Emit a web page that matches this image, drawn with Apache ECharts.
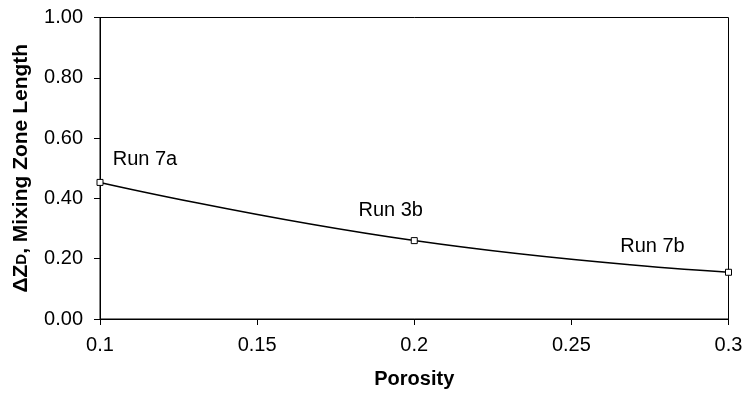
<!DOCTYPE html>
<html><head><meta charset="utf-8">
<script src="https://cdn.jsdelivr.net/npm/echarts@6/dist/echarts.min.js"></script>
<style>html,body{margin:0;padding:0;background:#fff}#c{width:747px;height:397px}</style>
</head><body><div id="c"></div>
<script>
const porosity = [0.1, 0.2, 0.3];
const mixingZone = [0.453, 0.26, 0.155];
const runLabels = ['Run 7a', 'Run 3b', 'Run 7b'];
const labelOffsets = [[45, -23], [-23.5, -30], [-76, -26]];

const chart = echarts.init(document.getElementById('c'));
const F = '"Liberation Sans", Arial, sans-serif';
chart.setOption({
  animation: false,
  backgroundColor: '#fff',
  textStyle: {fontFamily: F},
  grid: {left: 100, right: 18.5, top: 17.5, bottom: 78, show: true, borderColor: '#000', borderWidth: 1},
  xAxis: {
    type: 'value', min: 0.1, max: 0.3, interval: 0.05,
    name: 'Porosity', nameLocation: 'middle', nameGap: 50,
    nameTextStyle: {fontFamily: F, fontSize: 20, fontWeight: 'bold', color: '#000'},
    axisLine: {show: true, lineStyle: {color: '#000', width: 1}},
    axisTick: {show: true, length: 6, lineStyle: {color: '#000'}},
    axisLabel: {fontFamily: F, fontSize: 20, color: '#000', margin: 16},
    splitLine: {show: false}
  },
  yAxis: {
    type: 'value', min: 0, max: 1, interval: 0.2,
    name: 'ΔZ{sub|D}, Mixing Zone Length', nameLocation: 'middle', nameGap: 68, nameRotate: 90,
    nameTextStyle: {fontFamily: F, fontSize: 21, fontWeight: 'bold', color: '#000',
      rich: {sub: {fontFamily: F, fontSize: 15, fontWeight: 'bold', color: '#000'}}},
    axisLine: {show: true, lineStyle: {color: '#000', width: 1}},
    axisTick: {show: true, length: 6, lineStyle: {color: '#000'}},
    axisLabel: {fontFamily: F, fontSize: 20, color: '#000', margin: 17, formatter: v => v.toFixed(2)},
    splitLine: {show: false}
  },
  series: [{
    type: 'line', smooth: true,
    data: porosity.map((x, i) => ({
      value: [x, mixingZone[i]],
      label: {show: true, formatter: runLabels[i], offset: labelOffsets[i], position: 'inside',
        fontFamily: F, fontSize: 20, color: '#000'}
    })),
    symbol: 'rect', symbolSize: 6, showAllSymbol: true,
    lineStyle: {color: '#000', width: 1.5},
    itemStyle: {color: '#fff', borderColor: '#000', borderWidth: 1},
    z: 5
  }]
});
</script></body></html>
